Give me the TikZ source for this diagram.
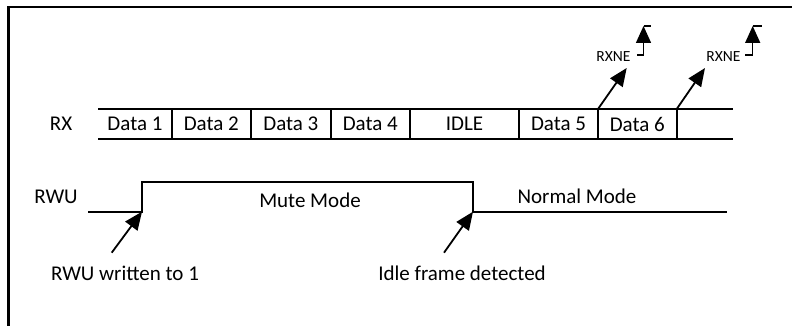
\documentclass[tikz,border=0pt]{standalone}
\usepackage{fontspec}
\setmainfont{Carlito}
\usetikzlibrary{arrows.meta}
\begin{document}
\begin{tikzpicture}[x=1pt,y=-1pt,line width=1.8pt,
  lbl/.style={font=\fontsize{21}{25}\selectfont, inner sep=0pt},
  small/.style={font=\fontsize{15.5}{18}\selectfont, inner sep=0pt},
  tip/.style={-{Triangle[length=18pt,width=15pt]}},
  bigtip/.style={-{Triangle[length=17pt,width=15pt]}}]
\useasboundingbox (0,0) rectangle (792,326);
% frame (top and left edges)
\draw[line width=2.2pt] (8.5,326) -- (8.5,7) -- (792,7);
% RX row
\draw (98,109) -- (733,109);
\draw (98,139) -- (733,139);
\foreach \x in {171.7,251,330.7,410,519,598,676.7} \draw (\x,109) -- (\x,139);
\node[lbl] (rx) at (61,124) {RX};
\node[lbl] (d1) at (135,124) {Data 1};
\node[lbl] (d2) at (211.3,124) {Data 2};
\node[lbl] (d3) at (290.9,124) {Data 3};
\node[lbl] (d4) at (370.3,124) {Data 4};
\node[lbl] (idle) at (464.5,124) {IDLE};
\node[lbl] (d5) at (558.5,124) {Data 5};
\node[lbl] (d6) at (637.3,124) {Data 6};
% RXNE events
\coordinate (e1) at (598,109);
\coordinate (e2) at (676.7,109);
\coordinate (t1) at (626.7,68);
\coordinate (t2) at (705,68);
\draw[tip] (e1) -- (t1);
\draw[tip] (e2) -- (t2);
\node[small] (rxne1) at (613.5,57) {RXNE};
\node[small] (rxne2) at (723.5,57) {RXNE};
% rising-edge icons
\coordinate (ia0) at (637,55);
\coordinate (ia1) at (643.5,55);
\coordinate (ia2) at (643.5,26);
\coordinate (ia3) at (651,26);
\draw[line width=1.5pt] (ia0) -- (ia1);
\draw[line width=1.5pt,bigtip] (ia1) -- (ia2);
\draw[line width=1.5pt] (ia2) -- (ia3);
\coordinate (ib0) at (745,55);
\coordinate (ib1) at (752.7,55);
\coordinate (ib2) at (752.7,26);
\coordinate (ib3) at (761.5,26);
\draw[line width=1.5pt] (ib0) -- (ib1);
\draw[line width=1.5pt,bigtip] (ib1) -- (ib2);
\draw[line width=1.5pt] (ib2) -- (ib3);
% RWU signal
\node[lbl] (rwu) at (56,197) {RWU};
\coordinate (s0) at (88,211.7);
\coordinate (rise) at (142,211.7);
\coordinate (fall) at (473,211.7);
\coordinate (s1) at (727,211.7);
\draw (s0) -- (rise) -- (142,181.7) -- (473,181.7) -- (fall) -- (s1);
\node[lbl] (mute) at (310,200) {Mute Mode};
\node[lbl] (normal) at (577,196) {Normal Mode};
% annotations
\node[lbl] (w1) at (125,273) {RWU written to 1};
\node[lbl] (ifd) at (462,273) {Idle frame detected};
\coordinate (a1) at (111.7,252.7);
\coordinate (a2) at (444,252.7);
\draw[tip] (a1) -- (rise);
\draw[tip] (a2) -- (fall);
\end{tikzpicture}
\end{document}
